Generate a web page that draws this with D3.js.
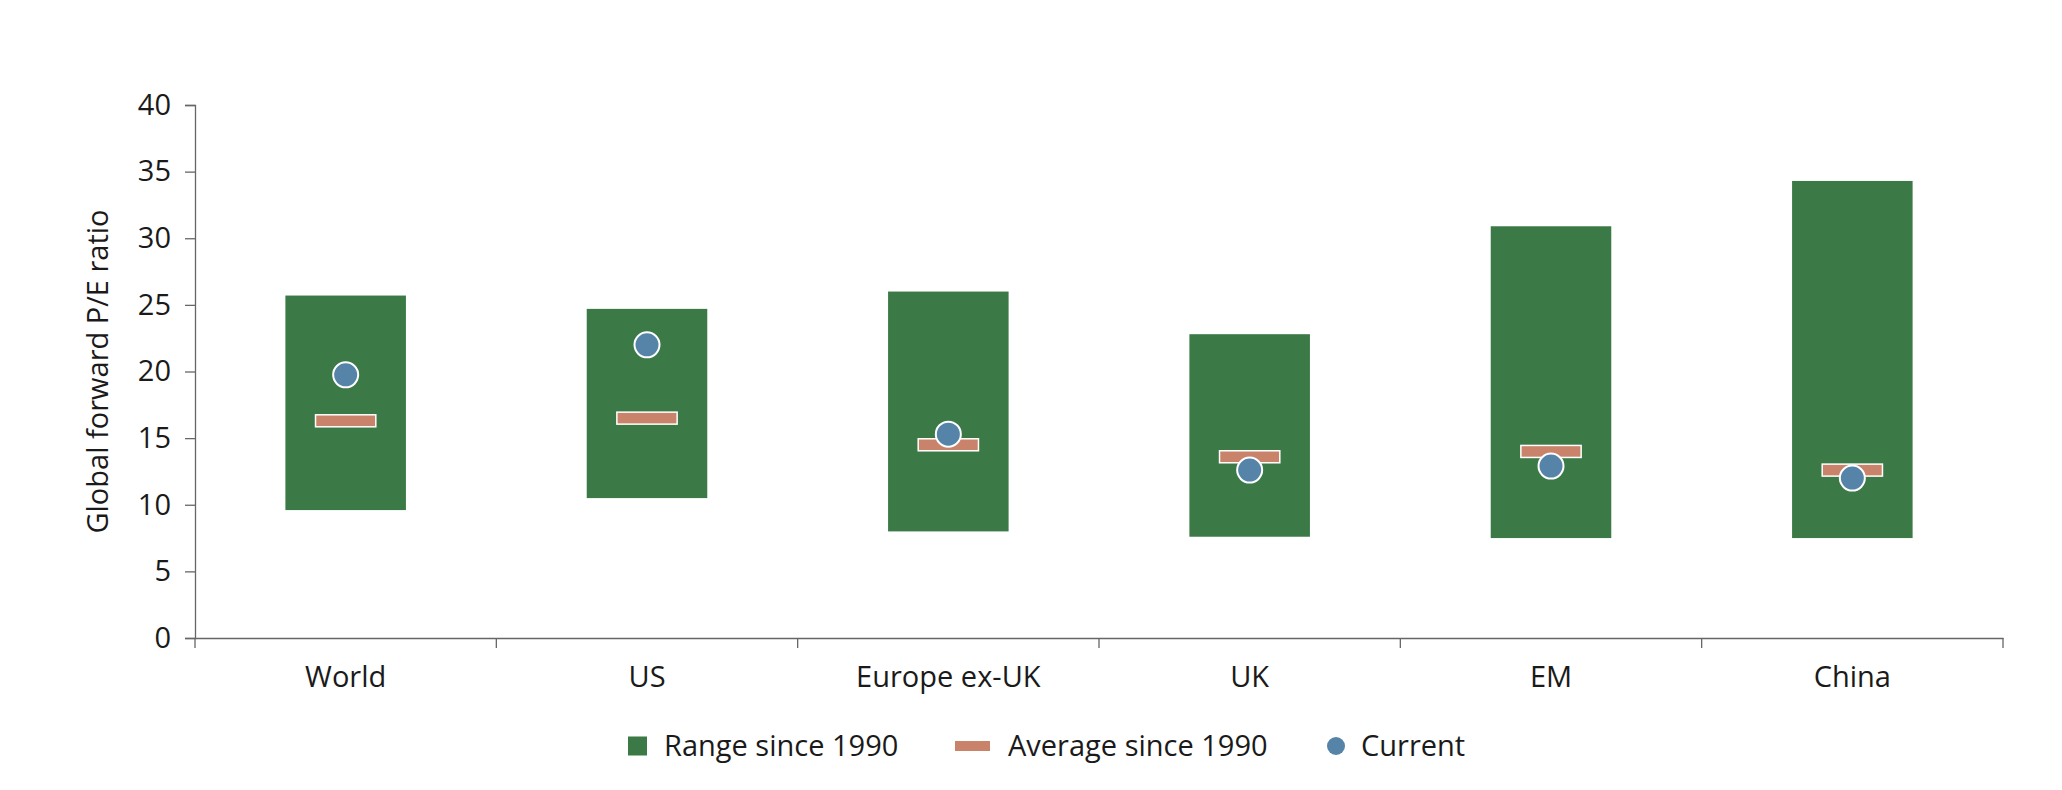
<!DOCTYPE html>
<html>
<head>
<meta charset="utf-8">
<script src="https://cdn.jsdelivr.net/npm/d3@7"></script>
<style>
  body { margin: 0; background: #fff; }
  text { font-family: "Open Sans", "Noto Sans", sans-serif; fill: #1a1a1a; }
</style>
</head>
<body>
<svg id="chart"></svg>
<script>
const categories = ['World', 'US', 'Europe ex-UK', 'UK', 'EM', 'China'];
const rangeLow = [9.6, 10.5, 8.0, 7.6, 7.5, 7.5];
const rangeHigh = [25.7, 24.7, 26.0, 22.8, 30.9, 34.3];
const average = [16.3, 16.5, 14.5, 13.6, 14.0, 12.6];
const current = [19.75, 22.0, 15.3, 12.6, 12.9, 12.0];
const yTicks = [0, 5, 10, 15, 20, 25, 30, 35, 40];
const legendLabels = ['Range since 1990', 'Average since 1990', 'Current'];

const width = 2062, height = 790;
const margin = { top: 105, right: 59, bottom: 152, left: 195 };
const fontSize = '29px';

const green = '#3b7a47', orange = '#c8836a', blue = '#5683a8';

const svg = d3.select('#chart')
    .attr('width', width)
    .attr('height', height);

const x = d3.scaleBand()
    .domain(categories)
    .range([margin.left, width - margin.right])
    .paddingInner(0.6)
    .paddingOuter(0.3);

const y = d3.scaleLinear()
    .domain([0, 40])
    .range([height - margin.bottom, margin.top]);

const rows = categories.map((c, i) => ({
    cat: c, lo: rangeLow[i], hi: rangeHigh[i], avg: average[i], cur: current[i]
}));

// y axis
const yAxis = svg.append('g')
    .attr('transform', `translate(${margin.left},0)`)
    .call(d3.axisLeft(y).tickValues(yTicks).tickSize(10).tickPadding(14));
yAxis.select('.domain').attr('stroke', '#666').attr('stroke-width', 1.3);
yAxis.selectAll('.tick line').attr('stroke', '#666').attr('stroke-width', 1.3);
yAxis.selectAll('.tick text')
    .style('font-size', fontSize)
    .style('font-family', '"Open Sans", sans-serif')
    .attr('fill', '#1a1a1a');

// x axis: labels centered, ticks at band boundaries
const xAxis = svg.append('g')
    .attr('transform', `translate(0,${height - margin.bottom})`)
    .call(d3.axisBottom(x).tickSize(0).tickPadding(28).tickSizeOuter(0));
xAxis.select('.domain').attr('stroke', '#666').attr('stroke-width', 1.3);
xAxis.selectAll('.tick text')
    .style('font-size', fontSize)
    .style('font-family', '"Open Sans", sans-serif')
    .attr('fill', '#1a1a1a');

const half = x.step() * x.paddingInner() / 2;
const bounds = categories.map(c => x(c) - half).concat([x(categories[categories.length - 1]) + x.bandwidth() + half]);
xAxis.selectAll('.bound')
    .data(bounds)
    .enter()
    .append('line')
    .attr('class', 'bound')
    .attr('x1', d => d).attr('x2', d => d)
    .attr('y1', 0).attr('y2', 10)
    .attr('stroke', '#666')
    .attr('stroke-width', 1.3);

// y axis title
svg.append('text')
    .attr('transform', `translate(98,${y(20)})rotate(-90)`)
    .attr('text-anchor', 'middle')
    .attr('dy', '0.35em')
    .style('font-size', fontSize)
    .text('Global forward P/E ratio');

// range bars
svg.selectAll('.range')
    .data(rows)
    .enter()
    .append('rect')
    .attr('class', 'range')
    .attr('x', d => x(d.cat))
    .attr('width', x.bandwidth())
    .attr('y', d => y(d.hi))
    .attr('height', d => y(d.lo) - y(d.hi))
    .attr('fill', green);

// average markers
const avgW = x.bandwidth() * 0.5, avgH = 12;
svg.selectAll('.avg')
    .data(rows)
    .enter()
    .append('rect')
    .attr('class', 'avg')
    .attr('x', d => x(d.cat) + x.bandwidth() / 2 - avgW / 2)
    .attr('width', avgW)
    .attr('y', d => y(d.avg) - avgH / 2)
    .attr('height', avgH)
    .attr('fill', orange)
    .attr('stroke', '#fff')
    .attr('stroke-width', 1.5);

// current
svg.selectAll('.cur')
    .data(rows)
    .enter()
    .append('circle')
    .attr('class', 'cur')
    .attr('cx', d => x(d.cat) + x.bandwidth() / 2)
    .attr('cy', d => y(d.cur))
    .attr('r', 12.5)
    .attr('fill', blue)
    .attr('stroke', '#fff')
    .attr('stroke-width', 2);

// legend
const legendY = 746;
const legendX = [628, 955, 1327];
const lg = svg.append('g');
lg.append('rect')
    .attr('x', legendX[0]).attr('y', legendY - 9.5)
    .attr('width', 19).attr('height', 19)
    .attr('fill', green);
lg.append('rect')
    .attr('x', legendX[1]).attr('y', legendY - 5)
    .attr('width', 35).attr('height', 10)
    .attr('fill', orange);
lg.append('circle')
    .attr('cx', legendX[2] + 9).attr('cy', legendY)
    .attr('r', 9)
    .attr('fill', blue);
const textOffsets = [36, 53, 34];
lg.selectAll('.ltext')
    .data(legendLabels)
    .enter()
    .append('text')
    .attr('class', 'ltext')
    .attr('x', (d, i) => legendX[i] + textOffsets[i])
    .attr('y', legendY)
    .attr('dy', '0.35em')
    .style('font-size', fontSize)
    .text(d => d);
</script>
</body>
</html>
